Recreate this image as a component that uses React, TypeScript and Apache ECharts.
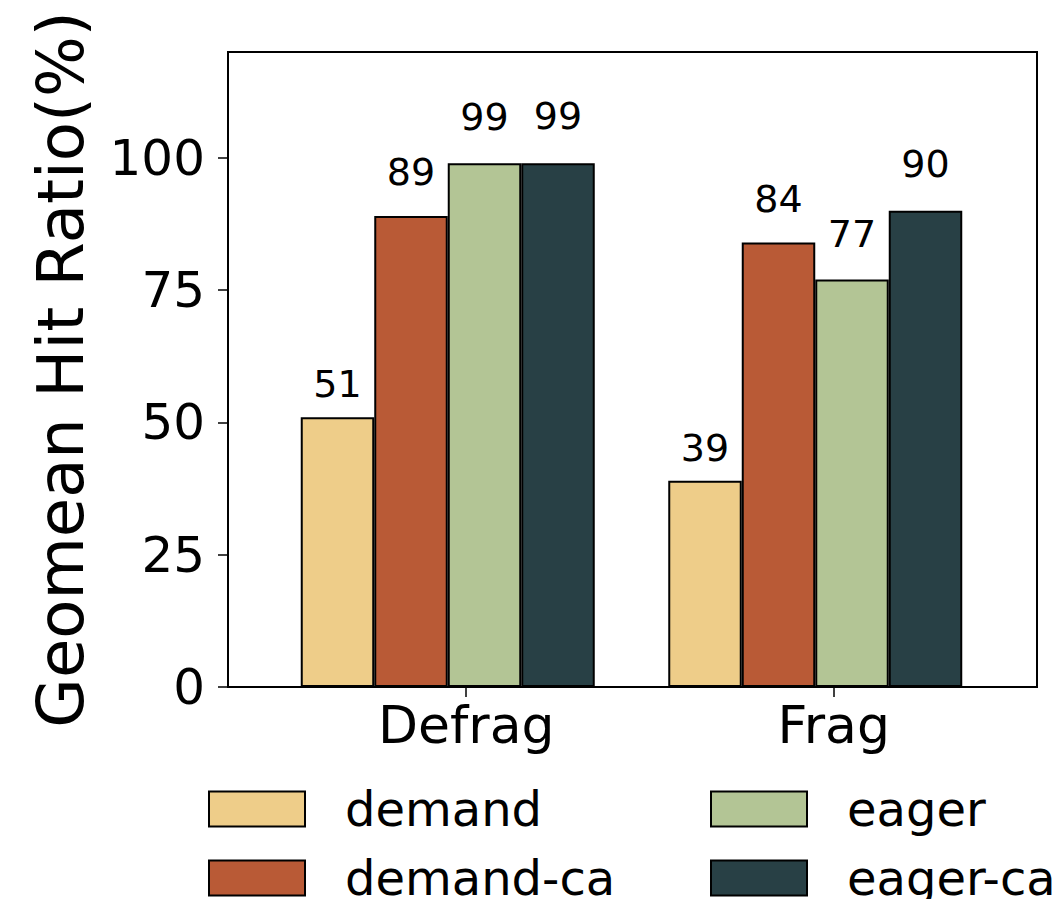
import React, { useEffect, useRef } from "react";
import * as echarts from "echarts";

const categories = ["Defrag", "Frag"];
const seriesNames = ["demand", "demand-ca", "eager", "eager-ca"];
const demand = [51, 39];
const demandCa = [89, 84];
const eager = [99, 77];
const eagerCa = [99, 90];
const yTicks = [0, 25, 50, 75, 100];
const colors = ["#EECD89", "#B95A36", "#B3C595", "#284045"];
const yAxisName = "Geomean Hit Ratio(%)";

const FONT = "DejaVu Sans";

export default function App() {
  const ref = useRef<HTMLDivElement>(null);
  useEffect(() => {
    if (!ref.current) return;
    const chart = echarts.init(ref.current, null, { renderer: "svg" });
    const values = [demand, demandCa, eager, eagerCa];
    const labelDistances = [14, 25, 27, 28];
    const legendPos = [
      { left: 208, top: 785 },
      { left: 208, top: 854 },
      { left: 710, top: 785 },
      { left: 710, top: 854 },
    ];
    const option: any = {
      animation: false,
      backgroundColor: "#ffffff",
      textStyle: { fontFamily: FONT },
      grid: [
        { left: 264, right: 63, top: 52, bottom: 212, containLabel: false },
        {
          left: 228,
          right: 25,
          top: 52,
          bottom: 212,
          show: true,
          borderColor: "#000",
          borderWidth: 2,
          backgroundColor: "transparent",
        },
      ],
      xAxis: [
        {
          type: "category",
          gridIndex: 0,
          data: categories,
          axisLine: { show: false },
          axisTick: { show: false },
          axisLabel: {
            color: "#000",
            fontSize: 52,
            fontFamily: FONT,
            margin: 12,
            padding: [0, 0, 0, 37],
          },
        },
        {
          type: "value",
          gridIndex: 0,
          position: "bottom",
          min: -0.5,
          max: 1.5,
          axisLine: { show: false, onZero: false },
          splitLine: { show: false },
          axisLabel: { show: false },
          axisTick: {
            show: true,
            customValues: [0.05, 1.05],
            length: 10,
            lineStyle: { color: "#000", width: 1.5 },
          },
        },
        { type: "value", gridIndex: 1, show: false },
      ],
      yAxis: [
        {
          type: "value",
          gridIndex: 0,
          min: 0,
          max: 120,
          offset: 36,
          name: yAxisName,
          nameLocation: "middle",
          nameGap: 135,
          nameTextStyle: { fontSize: 64, color: "#000", fontFamily: FONT },
          axisLine: { show: true, onZero: false, lineStyle: { color: "#000", width: 2 } },
          axisTick: {
            show: true,
            length: 10,
            customValues: yTicks,
            lineStyle: { color: "#000", width: 1.5 },
          },
          axisLabel: {
            customValues: yTicks,
            color: "#000",
            fontSize: 50,
            fontFamily: FONT,
            margin: 23,
          },
          splitLine: { show: false },
        },
        { type: "value", gridIndex: 1, show: false },
      ],
      legend: seriesNames.map((name, i) => ({
        data: [name],
        left: legendPos[i].left,
        top: legendPos[i].top,
        padding: 0,
        icon: "rect",
        itemWidth: 96,
        itemHeight: 35,
        itemStyle: { borderColor: "#000", borderWidth: 2 },
        textStyle: { fontSize: 48, color: "#000", fontFamily: FONT, padding: [0, 0, 0, 35] },
      })),
      series: seriesNames.map((name, i) => ({
        name,
        type: "bar",
        xAxisIndex: 0,
        yAxisIndex: 0,
        data: values[i],
        barGap: "0%",
        barCategoryGap: "20%",
        itemStyle: { color: colors[i], borderColor: "#000", borderWidth: 2 },
        label: {
          show: true,
          position: "top",
          distance: labelDistances[i],
          color: "#000",
          fontSize: 38,
          fontFamily: FONT,
        },
      })),
    };
    chart.setOption(option);
    return () => chart.dispose();
  }, []);
  return (
    <div
      ref={ref}
      style={{ position: "fixed", left: 0, top: 0, width: 1062, height: 899 }}
    />
  );
}
